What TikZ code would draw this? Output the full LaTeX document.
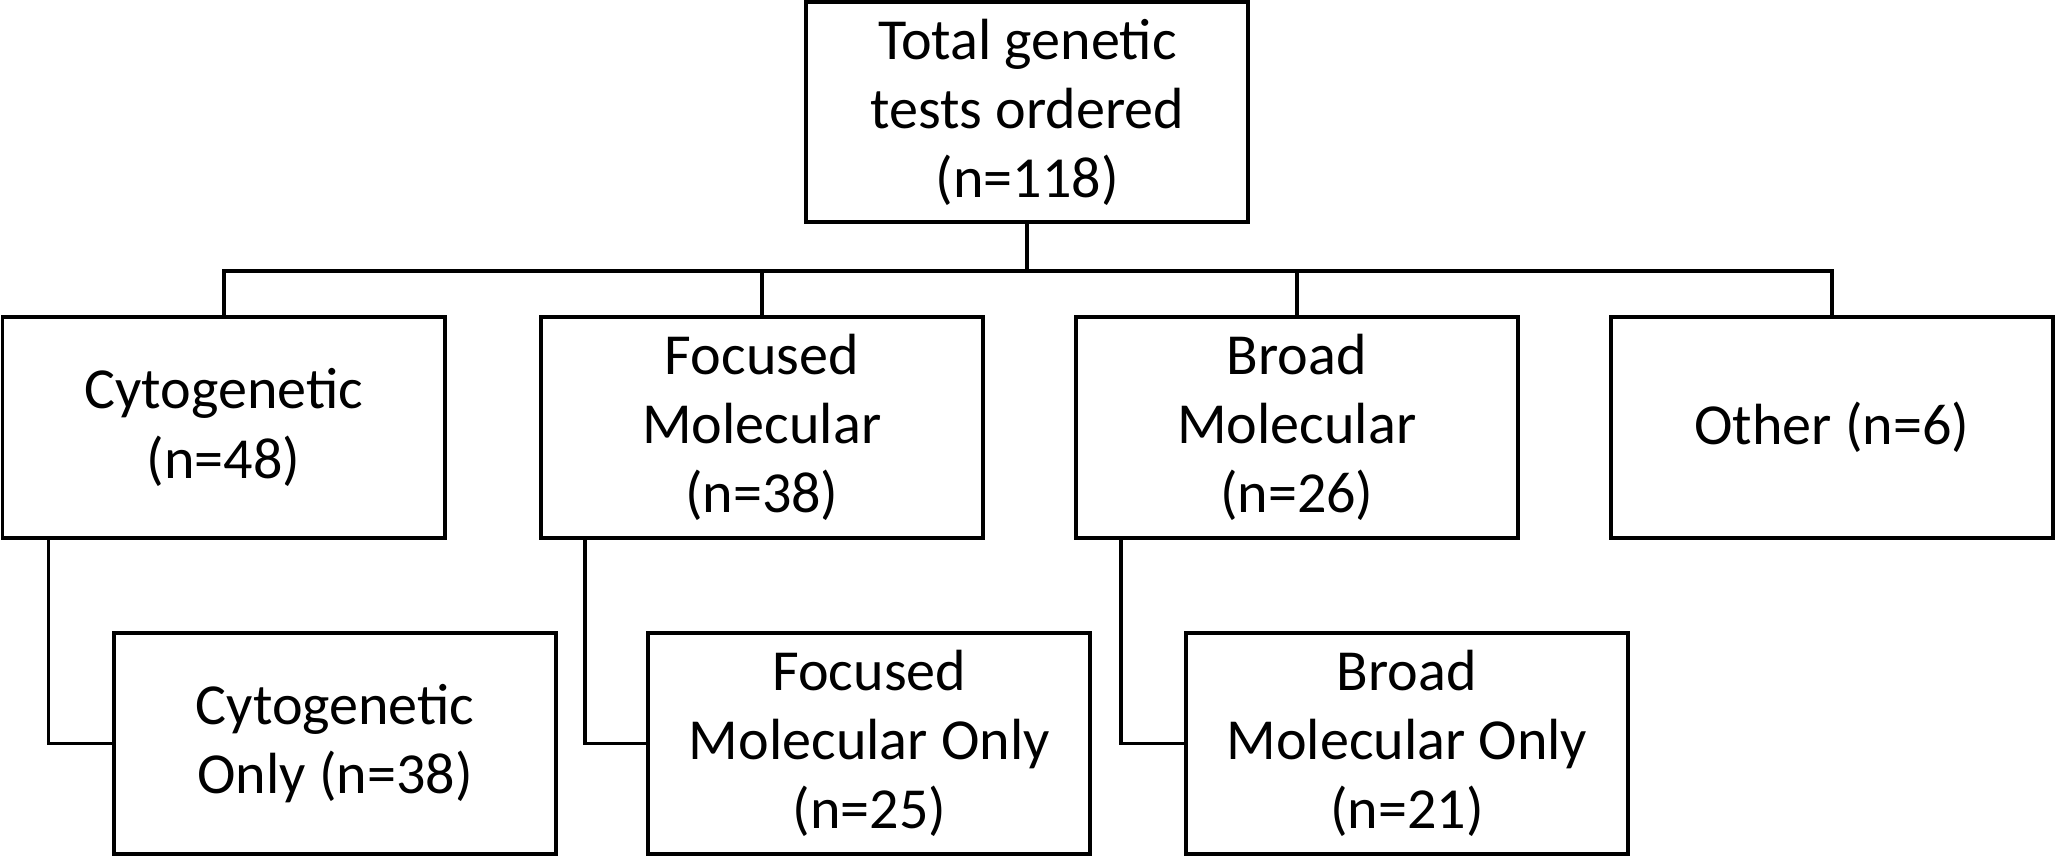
\documentclass[tikz,border=0pt]{standalone}
\usepackage{fontspec}
\setmainfont{Carlito}
\begin{document}
\begin{tikzpicture}[x=0.01cm,y=-0.01cm,line width=0.85pt,
  box/.style={draw,align=center,inner sep=0pt,font=\fontsize{12.6}{15}\selectfont,minimum width=3.37cm,minimum height=1.68cm}]
\useasboundingbox (0,0) rectangle (1568,653);
\node[box] (top) at (783.5,85.5) {Total genetic\\tests ordered\\(n=118)};
\node[box] (cyto) at (170.5,326) {Cytogenetic\\(n=48)};
\node[box] (foc) at (581,326) {Focused\\Molecular\\(n=38)};
\node[box] (broad) at (989,326) {Broad\\Molecular\\(n=26)};
\node[box] (oth) at (1397,326) {Other (n=6)};
\node[box] (cytoO) at (255.5,567) {Cytogenetic\\Only (n=38)};
\node[box] (focO) at (663,567) {Focused\\Molecular Only\\(n=25)};
\node[box] (broadO) at (1073,567) {Broad\\Molecular Only\\(n=21)};
\coordinate (j) at (783.5,207);
\draw (top.south) -- (j);
\foreach \n in {cyto,foc,broad,oth} \draw (j) -| (\n.north);
\draw (37,411) |- (cytoO.west);
\draw (446,411) |- (focO.west);
\draw (855,411) |- (broadO.west);
\end{tikzpicture}
\end{document}
